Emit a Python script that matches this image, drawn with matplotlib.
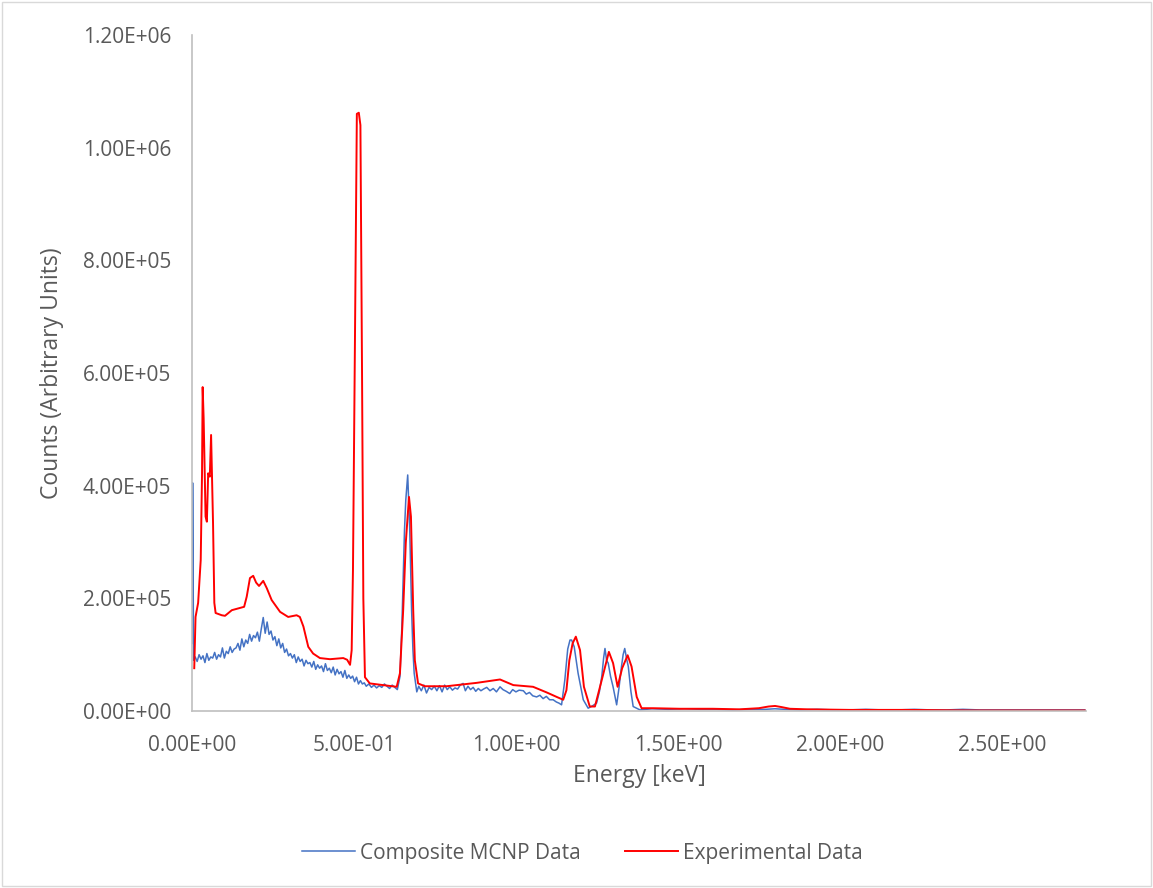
#!/usr/bin/env python
import matplotlib
matplotlib.use("Agg")
import matplotlib.pyplot as plt
from matplotlib.ticker import FuncFormatter, MultipleLocator
from matplotlib.patches import Rectangle

# Composite MCNP data (energy in keV, counts in thousands)
mcnp_energy = [
    0.001, 0.002, 0.005, 0.010, 0.016, 0.022, 0.028, 0.034, 0.040, 0.046, 0.052, 0.058,
    0.064, 0.070, 0.076, 0.082, 0.088, 0.094, 0.100, 0.106, 0.112, 0.118, 0.124, 0.130,
    0.136, 0.142, 0.148, 0.154, 0.160, 0.166, 0.172, 0.178, 0.184, 0.190, 0.196, 0.202,
    0.208, 0.214, 0.220, 0.226, 0.232, 0.238, 0.244, 0.250, 0.256, 0.262, 0.268, 0.274,
    0.280, 0.286, 0.292, 0.298, 0.304, 0.310, 0.316, 0.322, 0.328, 0.334, 0.340, 0.346,
    0.352, 0.358, 0.364, 0.370, 0.376, 0.382, 0.388, 0.394, 0.400, 0.406, 0.412, 0.418,
    0.424, 0.430, 0.436, 0.442, 0.448, 0.454, 0.460, 0.466, 0.472, 0.478, 0.484, 0.490,
    0.496, 0.502, 0.508, 0.514, 0.520, 0.526, 0.532, 0.538, 0.546, 0.554, 0.562, 0.570,
    0.578, 0.586, 0.594, 0.602, 0.610, 0.618, 0.626, 0.634, 0.642, 0.648, 0.652, 0.656,
    0.660, 0.666, 0.672, 0.678, 0.682, 0.686, 0.694, 0.700, 0.708, 0.716, 0.724, 0.732,
    0.740, 0.748, 0.756, 0.764, 0.772, 0.780, 0.788, 0.796, 0.804, 0.812, 0.820, 0.828,
    0.837, 0.844, 0.852, 0.860, 0.868, 0.876, 0.884, 0.892, 0.900, 0.910, 0.920, 0.930,
    0.940, 0.951, 0.960, 0.970, 0.981, 0.990, 1.000, 1.010, 1.023, 1.032, 1.042, 1.052,
    1.064, 1.074, 1.084, 1.094, 1.104, 1.115, 1.125, 1.133, 1.141, 1.151, 1.160, 1.167,
    1.172, 1.180, 1.192, 1.208, 1.223, 1.236, 1.249, 1.258, 1.265, 1.271, 1.275, 1.280,
    1.285, 1.292, 1.300, 1.311, 1.318, 1.326, 1.331, 1.336, 1.342, 1.347, 1.355, 1.362,
    1.383, 1.42, 1.47, 1.52, 1.57, 1.62, 1.67, 1.72, 1.77, 1.80, 1.83, 1.88, 1.93, 1.98,
    2.03, 2.08, 2.13, 2.18, 2.23, 2.28, 2.33, 2.38, 2.43, 2.48, 2.53, 2.58, 2.63, 2.68,
    2.73, 2.756,
]
mcnp_counts = [
    120, 405, 90, 96, 88, 100, 92, 98, 86, 102, 90, 96,
    94, 104, 92, 100, 96, 112, 94, 106, 102, 114, 104, 110,
    112, 120, 108, 128, 114, 126, 120, 136, 124, 134, 130, 140,
    124, 146, 166, 138, 158, 136, 142, 126, 132, 116, 128, 112,
    120, 104, 110, 98, 102, 94, 100, 86, 96, 88, 92, 80,
    90, 84, 86, 78, 88, 74, 82, 76, 80, 70, 84, 72,
    76, 68, 78, 64, 74, 66, 70, 60, 72, 58, 64, 58,
    62, 52, 60, 48, 54, 48, 50, 44, 48, 42, 46, 41,
    45, 42, 48, 44, 40, 46, 42, 38, 61, 150, 238, 320,
    374, 419, 327, 179, 110, 67, 34, 44, 36, 46, 32, 42,
    38, 44, 36, 45, 34, 46, 38, 43, 37, 41, 39, 46,
    49, 36, 44, 38, 42, 35, 40, 36, 39, 42, 36, 40,
    34, 43, 38, 35, 31, 38, 34, 37, 36, 30, 33, 27,
    25, 28, 22, 26, 20, 20, 16, 14, 11, 55, 110, 126,
    126, 114, 67, 20, 5, 9, 14, 35, 61, 95, 111, 90,
    85, 62, 43, 11, 40, 79, 100, 111, 92, 79, 35, 8,
    2, 4, 3, 4, 3, 3, 2, 3, 3, 4, 3, 2, 3, 2,
    2, 3, 2, 2, 3, 2, 2, 3, 2, 2, 2, 2, 2, 2,
    2, 2,
]

# Experimental data (energy in keV, counts in thousands)
exp_energy = [
    0.007, 0.011, 0.019, 0.027, 0.031, 0.033, 0.036, 0.042, 0.046, 0.050, 0.055, 0.059,
    0.065, 0.069, 0.073, 0.092, 0.102, 0.123, 0.142, 0.161, 0.169, 0.179, 0.189, 0.198,
    0.207, 0.220, 0.231, 0.246, 0.272, 0.297, 0.323, 0.333, 0.344, 0.359, 0.374, 0.395,
    0.426, 0.467, 0.479, 0.488, 0.493, 0.497, 0.503, 0.509, 0.515, 0.520, 0.525, 0.529,
    0.534, 0.549, 0.590, 0.632, 0.642, 0.652, 0.660, 0.670, 0.676, 0.683, 0.688, 0.698,
    0.719, 0.786, 0.879, 0.951, 0.992, 1.053, 1.095, 1.126, 1.146, 1.156, 1.165, 1.175,
    1.185, 1.198, 1.210, 1.228, 1.244, 1.265, 1.287, 1.300, 1.314, 1.328, 1.345, 1.357,
    1.373, 1.388, 1.423, 1.506, 1.608, 1.69, 1.75, 1.78, 1.80, 1.82, 1.846, 1.90,
    2.03, 2.20, 2.40, 2.60, 2.756,
]
exp_counts = [
    76, 167, 192, 268, 420, 575, 520, 345, 336, 422, 416, 490,
    334, 192, 174, 170, 169, 179, 182, 185, 203, 236, 240, 228,
    222, 231, 218, 197, 176, 167, 170, 167, 150, 114, 102, 94,
    92, 94, 91, 82, 108, 250, 650, 1060, 1062, 1040, 600, 200,
    60, 49, 46, 43, 67, 179, 298, 380, 345, 179, 90, 49,
    44, 44, 50, 56, 46, 43, 33, 25, 20, 37, 90, 120,
    132, 108, 43, 8, 8, 55, 105, 85, 43, 76, 99, 79,
    25, 5, 5, 4, 4, 3, 5, 8, 9, 7, 4, 3,
    2, 2, 1, 1, 1,
]

x_ticks = [0.0, 0.5, 1.0, 1.5, 2.0, 2.5]

TEXT = "#595959"
plt.rcParams["font.family"] = ["Open Sans", "DejaVu Sans"]

fig = plt.figure(figsize=(11.53, 8.88), dpi=100)
ax = fig.add_axes([0.1665, 0.1993, 0.7754, 0.7613])

ax.plot(mcnp_energy, [c * 1000 for c in mcnp_counts], color="#4472C4", linewidth=1.1,
        label="Composite MCNP Data")
ax.plot(exp_energy, [c * 1000 for c in exp_counts], color="#FF0000", linewidth=1.4,
        label="Experimental Data")

ax.set_xlim(0, 2.76)
ax.set_ylim(0, 1.2e6)
ax.set_xticks(x_ticks)
ax.yaxis.set_major_locator(MultipleLocator(2e5))
sci = FuncFormatter(lambda v, p: "%.2E" % v)
ax.xaxis.set_major_formatter(sci)
ax.yaxis.set_major_formatter(sci)

for s in ["top", "right"]:
    ax.spines[s].set_visible(False)
for s in ["left", "bottom"]:
    ax.spines[s].set_color("#BFBFBF")
    ax.spines[s].set_linewidth(1.2)

ax.tick_params(axis="both", length=0, labelsize=15, colors=TEXT)
ax.tick_params(axis="x", pad=17)
ax.tick_params(axis="y", pad=15)

ax.set_xlabel("Energy [keV]", fontsize=16.5, color=TEXT, labelpad=6)
ax.set_ylabel("Counts (Arbitrary Units)", fontsize=16.5, color=TEXT)
ax.yaxis.set_label_coords(-0.143, 0.5)

fig.legend(loc="center", bbox_to_anchor=(0.505, 1 - 853 / 888), ncol=2, frameon=False,
           fontsize=15, handlelength=2.55, handletextpad=0.25, columnspacing=2.1,
           labelcolor=TEXT)

fig.patches.append(Rectangle((0.002, 0.002), 0.996, 0.996, transform=fig.transFigure,
                             fill=False, edgecolor="#D9D9D9", linewidth=1))

fig.savefig("out.png", dpi=100)
